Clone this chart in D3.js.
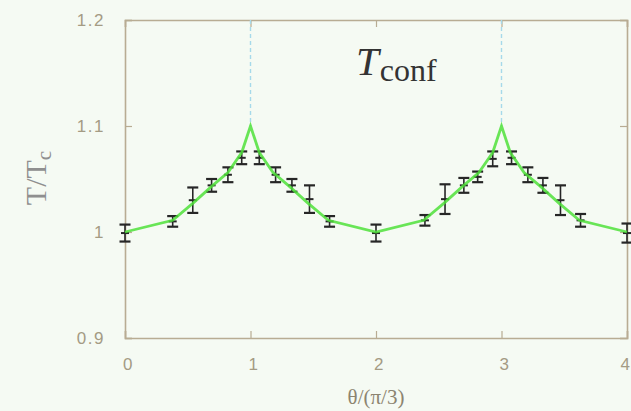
<!DOCTYPE html>
<html>
<head>
<meta charset="utf-8">
<script src="https://cdn.jsdelivr.net/npm/d3@7"></script>
<style>
  html, body { margin: 0; padding: 0; background: #f5faf3; }
  svg { display: block; }
</style>
</head>
<body>
<svg id="chart" width="631" height="411"></svg>
<script>
// Lattice measurements: angle (in units of pi/3), T/Tc and its error
const thetaData = [0, 0.38, 0.54, 0.69, 0.82, 0.93, 1.07, 1.20, 1.33, 1.47, 1.63, 2.0,
                   2.39, 2.55, 2.70, 2.81, 2.93, 3.08, 3.21, 3.33, 3.47, 3.63, 4.0];
const tData     = [0.999, 1.010, 1.030, 1.044, 1.054, 1.070, 1.070, 1.054, 1.044, 1.031, 1.010, 0.999,
                   1.011, 1.031, 1.044, 1.052, 1.069, 1.070, 1.054, 1.044, 1.030, 1.011, 0.999];
const tErr      = [0.008, 0.005, 0.012, 0.006, 0.007, 0.006, 0.006, 0.007, 0.006, 0.013, 0.005, 0.008,
                   0.005, 0.014, 0.007, 0.005, 0.007, 0.006, 0.007, 0.007, 0.014, 0.006, 0.009];

// Model curve with cusps at theta = pi/3 and pi
const thetaModel = [0, 0.38, 0.54, 0.69, 0.82, 0.93, 1.0, 1.07, 1.18, 1.31, 1.46, 1.62, 2.0,
                    2.38, 2.54, 2.69, 2.82, 2.93, 3.0, 3.07, 3.18, 3.31, 3.46, 3.62, 4.0];
const tModel     = [1.000, 1.011, 1.027, 1.043, 1.056, 1.075, 1.100, 1.075, 1.056, 1.043, 1.027, 1.011, 1.000,
                    1.011, 1.027, 1.043, 1.056, 1.075, 1.100, 1.075, 1.056, 1.043, 1.027, 1.011, 1.000];

// Cusp positions marked by dashed guides
const cuspTheta = [1, 3];

const xTicks = [0, 1, 2, 3, 4];
const xTickLabels = ["0", "1", "2", "3", "4"];
const yTicks = [0.9, 1.0, 1.1, 1.2];
const yTickLabels = ["0.9", "1", "1.1", "1.2"];

const svg = d3.select("#chart");
const margin = { left: 125, top: 20, right: 4, bottom: 73 };
const W = 631, H = 411;
const iw = W - margin.left - margin.right;
const ih = H - margin.top - margin.bottom;

const x = d3.scaleLinear().domain([0, 4]).range([margin.left, margin.left + iw]);
const y = d3.scaleLinear().domain([0.9, 1.2]).range([margin.top + ih, margin.top]);

const frameColor = "#b8ac93";
const tickTextColor = "#a49b84";

svg.append("rect").attr("width", W).attr("height", H).attr("fill", "#f5faf3");

// Axes with inward ticks, mirrored on all four sides
const tickLen = 7;
const gx = svg.append("g").attr("transform", `translate(0,${y(0.9)})`)
  .call(d3.axisBottom(x).tickValues(xTicks).tickSize(-tickLen).tickFormat((d, i) => xTickLabels[i]).tickPadding(20));
const gxTop = svg.append("g").attr("transform", `translate(0,${y(1.2)})`)
  .call(d3.axisTop(x).tickValues(xTicks).tickSize(-tickLen).tickFormat(""));
const gy = svg.append("g").attr("transform", `translate(${x(0)},0)`)
  .call(d3.axisLeft(y).tickValues(yTicks).tickSize(-tickLen).tickFormat((d, i) => yTickLabels[i]).tickPadding(20));
const gyRight = svg.append("g").attr("transform", `translate(${x(4)},0)`)
  .call(d3.axisRight(y).tickValues(yTicks).tickSize(-tickLen).tickFormat(""));

[gx, gxTop, gy, gyRight].forEach(g => {
  g.select(".domain").attr("stroke", frameColor).attr("stroke-width", 1.6);
  g.selectAll(".tick line").attr("stroke", frameColor).attr("stroke-width", 1.2);
  g.selectAll(".tick text")
    .attr("fill", tickTextColor)
    .attr("font-family", "'Liberation Sans', Arial, sans-serif")
    .attr("font-size", 17)
    .attr("letter-spacing", 1.5);
});
gx.selectAll(".tick text").attr("dx", 3);
// keep the last x label inside the window
gx.selectAll(".tick text").filter(d => d === 4).attr("text-anchor", "end").attr("dx", 4);

// Dashed guides above the cusps
svg.append("g").selectAll("line").data(cuspTheta).join("line")
  .attr("x1", d => x(d)).attr("x2", d => x(d))
  .attr("y1", y(1.2)).attr("y2", y(1.1))
  .attr("stroke", "#a6d9ea").attr("stroke-width", 1.4)
  .attr("stroke-dasharray", "4,3");

// Error bars
const capW = 5.5;
const bars = svg.append("g").attr("stroke", "#262626");
thetaData.forEach((t, i) => {
  const cx = x(t), lo = y(tData[i] - tErr[i]), hi = y(tData[i] + tErr[i]), c = y(tData[i]);
  bars.append("line").attr("x1", cx).attr("x2", cx).attr("y1", lo).attr("y2", hi).attr("stroke-width", 1.6);
  bars.append("line").attr("x1", cx - capW).attr("x2", cx + capW).attr("y1", lo).attr("y2", lo).attr("stroke-width", 2.2);
  bars.append("line").attr("x1", cx - capW).attr("x2", cx + capW).attr("y1", hi).attr("y2", hi).attr("stroke-width", 2.2);
  bars.append("line").attr("x1", cx - 4).attr("x2", cx + 4).attr("y1", c).attr("y2", c).attr("stroke-width", 2);
});

// Model curve
const line = d3.line().x((d, i) => x(thetaModel[i])).y(d => y(d));
svg.append("path").datum(tModel)
  .attr("d", line)
  .attr("fill", "none")
  .attr("stroke", "#4fe03a")
  .attr("stroke-opacity", 0.85)
  .attr("stroke-width", 2.8)
  .attr("stroke-linejoin", "miter");

// Panel title T_conf
const title = svg.append("text")
  .attr("x", 356).attr("y", 75)
  .attr("font-family", "'Liberation Serif', 'DejaVu Serif', serif")
  .attr("fill", "#333");
title.append("tspan").attr("font-style", "italic").attr("font-size", 41).text("T");
title.append("tspan").attr("font-size", 32).attr("dy", 6).attr("dx", 1).text("conf");

// Axis titles
svg.append("text")
  .attr("x", x(2)).attr("y", 404)
  .attr("text-anchor", "middle")
  .attr("font-family", "'Liberation Serif', 'DejaVu Serif', serif")
  .attr("font-size", 21)
  .attr("fill", "#8c8470")
  .text("θ/(π/3)");

const yt = svg.append("text")
  .attr("transform", "translate(46,178) rotate(-90)")
  .attr("text-anchor", "middle")
  .attr("font-family", "'Liberation Serif', 'DejaVu Serif', serif")
  .attr("font-size", 30)
  .attr("fill", "#8f8f8f");
yt.append("tspan").text("T/T");
yt.append("tspan").attr("font-size", 21).attr("dy", 5).text("c");
</script>
</body>
</html>
